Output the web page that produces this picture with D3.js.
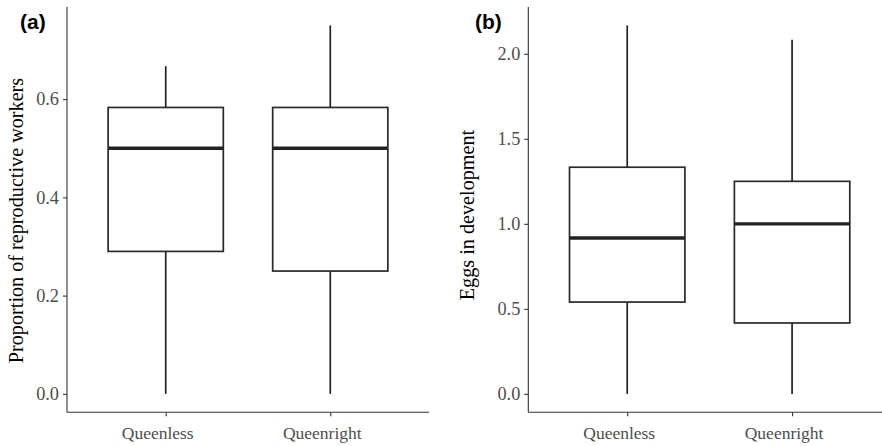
<!DOCTYPE html>
<html>
<head>
<meta charset="utf-8">
<script src="https://cdn.jsdelivr.net/npm/d3@7"></script>
<style>
  html, body { margin: 0; padding: 0; background: #fff; }
  svg { display: block; }
</style>
</head>
<body>
<svg id="chart" width="882" height="446"></svg>
<script>
// ---- data ----
const categories = ["Queenless", "Queenright"];

// Panel (a): Proportion of reproductive workers
const propMin    = [0, 0];
const propQ1     = [0.29, 0.25];
const propMedian = [0.5, 0.5];
const propQ3     = [0.583, 0.583];
const propMax    = [0.667, 0.75];
const propTicks  = [0.0, 0.2, 0.4, 0.6];

// Panel (b): Eggs in development
const eggsMin    = [0, 0];
const eggsQ1     = [0.54, 0.417];
const eggsMedian = [0.917, 1.0];
const eggsQ3     = [1.333, 1.25];
const eggsMax    = [2.167, 2.083];
const eggsTicks  = [0.0, 0.5, 1.0, 1.5, 2.0];

const svg = d3.select("#chart");
const serif = "'Liberation Serif', 'Times New Roman', serif";

function panel(opts) {
  const { left, right, top, bottom, min, q1, med, q3, max, ticks, title, label, titleX, titleY, labelX } = opts;
  const g = svg.append("g");
  const dataMax = d3.max(max), dataMin = d3.min(min);
  const pad = (dataMax - dataMin) * 0.05;
  const y = d3.scaleLinear().domain([dataMin - pad, dataMax + pad]).range([bottom, top]);
  // ggplot-style discrete expansion of 0.6 units on each side
  const unit = (right - left) / 2.2;
  const xPos = i => left + (0.6 + i) * unit;
  const boxW = 0.7 * unit;

  const rows = categories.map((c, i) => ({ c, i, min: min[i], q1: q1[i], med: med[i], q3: q3[i], max: max[i] }));

  // whiskers
  g.selectAll(".wu").data(rows).join("line")
    .attr("x1", d => xPos(d.i)).attr("x2", d => xPos(d.i))
    .attr("y1", d => y(d.q3)).attr("y2", d => y(d.max))
    .attr("stroke", "#222").attr("stroke-width", 1.7);
  g.selectAll(".wd").data(rows).join("line")
    .attr("x1", d => xPos(d.i)).attr("x2", d => xPos(d.i))
    .attr("y1", d => y(d.q1)).attr("y2", d => y(d.min))
    .attr("stroke", "#222").attr("stroke-width", 1.7);
  // boxes
  g.selectAll(".box").data(rows).join("rect")
    .attr("x", d => xPos(d.i) - boxW / 2).attr("width", boxW)
    .attr("y", d => y(d.q3)).attr("height", d => y(d.q1) - y(d.q3))
    .attr("fill", "#fff").attr("stroke", "#2a2a2a").attr("stroke-width", 1.7);
  // medians
  g.selectAll(".med").data(rows).join("line")
    .attr("x1", d => xPos(d.i) - boxW / 2).attr("x2", d => xPos(d.i) + boxW / 2)
    .attr("y1", d => y(d.med)).attr("y2", d => y(d.med))
    .attr("stroke", "#222").attr("stroke-width", 3.4);

  // y axis
  const yAxis = d3.axisLeft(y).tickValues(ticks).tickFormat(d3.format(".1f")).tickSize(4).tickPadding(4);
  const ya = g.append("g").attr("transform", `translate(${left},0)`).call(yAxis);
  ya.select(".domain").attr("stroke", "#333").attr("stroke-width", 1.1).attr("d", `M-0,${top}V${bottom}`);
  ya.selectAll(".tick line").attr("stroke", "#333").attr("stroke-width", 1.1);
  ya.selectAll(".tick text").attr("font-family", serif).attr("font-size", 18.3).attr("fill", "#4d4d4d");

  // x axis
  const xScale = d3.scaleOrdinal().domain(categories).range(categories.map((c, i) => xPos(i)));
  const xAxis = d3.axisBottom(xScale).tickSize(4).tickPadding(10);
  const xa = g.append("g").attr("transform", `translate(0,${bottom})`).call(xAxis);
  xa.select(".domain").attr("stroke", "#333").attr("stroke-width", 1.1).attr("d", `M${left},0H${right}`);
  xa.selectAll(".tick line").attr("stroke", "#333").attr("stroke-width", 1.1);
  xa.selectAll(".tick text").attr("font-family", serif).attr("font-size", 17.5).attr("fill", "#4d4d4d")
    .attr("dx", -8.5);

  // y title
  g.append("text")
    .attr("transform", `translate(${titleX},${titleY}) rotate(-90)`)
    .attr("text-anchor", "middle")
    .attr("font-family", serif).attr("font-size", 20.2).attr("fill", "#000")
    .text(title);

  // panel label
  g.append("text")
    .attr("x", labelX).attr("y", 29)
    .attr("font-family", "'Liberation Sans', Arial, sans-serif").attr("font-weight", "bold")
    .attr("font-size", 21).attr("fill", "#000")
    .text(label);
}

panel({
  left: 67, right: 429, top: 7, bottom: 412.3,
  min: propMin, q1: propQ1, med: propMedian, q3: propQ3, max: propMax,
  ticks: propTicks, title: "Proportion of reproductive workers", label: "(a)",
  titleX: 23, titleY: 220.5, labelX: 20
});

panel({
  left: 528.3, right: 891, top: 7, bottom: 412.3,
  min: eggsMin, q1: eggsQ1, med: eggsMedian, q3: eggsQ3, max: eggsMax,
  ticks: eggsTicks, title: "Eggs in development", label: "(b)",
  titleX: 474, titleY: 215, labelX: 475
});
</script>
</body>
</html>
